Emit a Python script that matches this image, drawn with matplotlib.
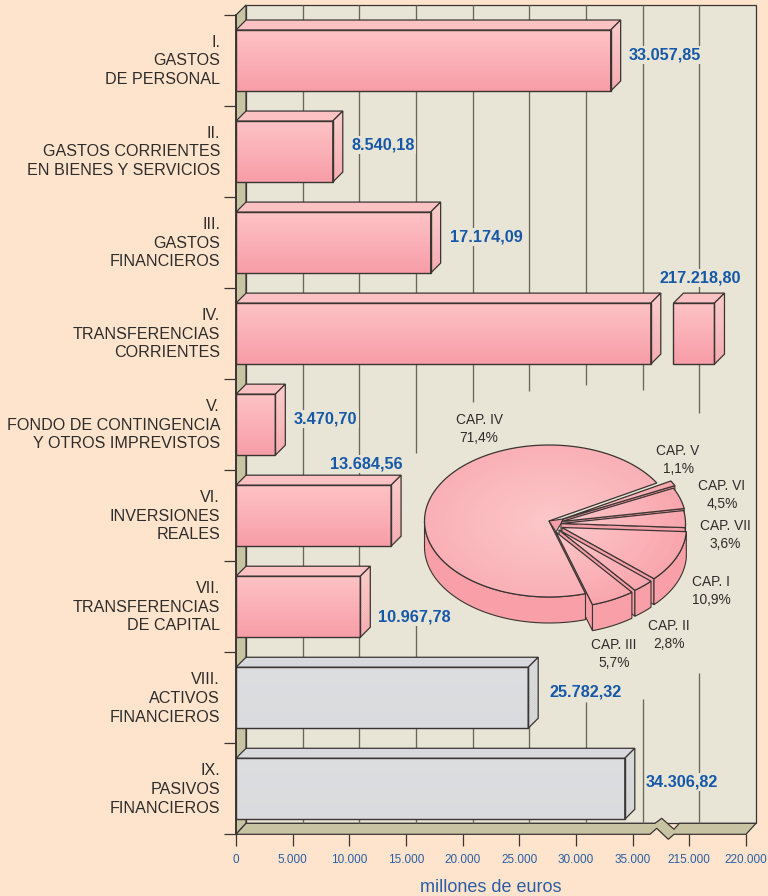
import numpy as np
import matplotlib
matplotlib.use("Agg")
import matplotlib.pyplot as plt
from matplotlib.colors import LinearSegmentedColormap, to_rgb
from matplotlib.patches import Polygon
from matplotlib.transforms import Affine2D, IdentityTransform, blended_transform_factory

# data
categories = [
    "I.\nGASTOS\nDE PERSONAL",
    "II.\nGASTOS CORRIENTES\nEN BIENES Y SERVICIOS",
    "III.\nGASTOS\nFINANCIEROS",
    "IV.\nTRANSFERENCIAS\nCORRIENTES",
    "V.\nFONDO DE CONTINGENCIA\nY OTROS IMPREVISTOS",
    "VI.\nINVERSIONES\nREALES",
    "VII.\nTRANSFERENCIAS\nDE CAPITAL",
    "VIII.\nACTIVOS\nFINANCIEROS",
    "IX.\nPASIVOS\nFINANCIEROS",
]
values = [33057.85, 8540.18, 17174.09, 217218.80, 3470.70, 13684.56, 10967.78, 25782.32, 34306.82]
grey_bars = [7, 8]
x_ticks = [0, 5000, 10000, 15000, 20000, 25000, 30000, 35000, 215000, 220000]
x_ticklabels = ["0", "5.000", "10.000", "15.000", "20.000", "25.000", "30.000", "35.000", "215.000", "220.000"]

# pie slices in drawing order, going round from the IV slice
pie_names = ["CAP. IV", "CAP. III", "CAP. II", "CAP. I", "CAP. VII", "CAP. VI", "CAP. V"]
pie_shares = [71.4, 5.7, 2.8, 10.9, 3.6, 4.5, 1.1]

# layout, in pixels of the 768x896 picture
value_label_xy = [(629, 55), (351, 145), (450, 237), (659, 278), (294, 419), (330, 464), (378, 617), (550, 692), (646, 782)]
pie_label_xy = [(479, 429), (614, 654), (669, 635), (711, 591), (725, 535), (722, 495), (678, 460)]
pie_centres = [(549, 521), (556, 532), (559, 530), (562, 527.5), (561, 523.5), (561.5, 521.5), (563, 519)]
pie_rx, pie_ry, pie_depth = 124.5, 76, 26
pie_start = 30.0
grid_gaps = {15000: (453, 625), 20000: (402, 657), 25000: (391, 657), 30000: (385, 702),
             35000: (390, 699), 215000: (413, 673)}

PEACH = "#FEE4CC"
WALL = "#E8E5D6"
KHAKI = "#C8C4A3"
DARK = "#3A3432"
BLUE = "#1558A8"
TICK_BLUE = "#2B5EA4"
TEXT = "#2E2C2B"
DEPTH = 10
BREAK_LOW, BREAK_HIGH = 37500, 212500
SEG_END, SEG_START = 36600, 213600

plt.rcParams["font.family"] = ["Liberation Sans", "DejaVu Sans"]


def forward(x):
    x = np.asarray(x, dtype=float)
    return np.where(x <= BREAK_LOW, x, np.where(x >= BREAK_HIGH, x - (BREAK_HIGH - BREAK_LOW), BREAK_LOW))


def inverse(x):
    x = np.asarray(x, dtype=float)
    return np.where(x <= BREAK_LOW, x, x + (BREAK_HIGH - BREAK_LOW))


def euro_label(v):
    return f"{v:,.2f}".replace(",", "#").replace(".", ",").replace("#", ".")


def draw_bar(ax, y, left, right, height, colors):
    front_top, front_bottom, top_col, side_top, side_bottom = colors
    cmap = LinearSegmentedColormap.from_list("bar", [front_top, front_bottom])
    edges = np.linspace(y - height / 2, y + height / 2, 41)
    shade = np.linspace(0, 1, 40).reshape(-1, 1)
    ax.pcolormesh([left, right], edges, shade, cmap=cmap, shading="flat", zorder=3)
    ax.barh(y, right - left, left=left, height=height, facecolor="none", edgecolor=DARK, linewidth=1.0, zorder=5)

    (x0, y0), (x1, y1) = ax.transData.transform([(left, y - height / 2), (right, y + height / 2)])
    top = [(x0, y0), (x1, y0), (x1 + DEPTH, y0 + DEPTH), (x0 + DEPTH, y0 + DEPTH)]
    ax.add_patch(Polygon(top, closed=True, facecolor=top_col, edgecolor=DARK, linewidth=0.9,
                         transform=IdentityTransform(), clip_on=False, zorder=4))
    # side face, light at the top and darker at the bottom
    steps = np.linspace(0, 1, 31)
    c0, c1 = np.array(to_rgb(side_top)), np.array(to_rgb(side_bottom))
    for a, b in zip(steps[:-1], steps[1:]):
        ya, yb = y0 + (y1 - y0) * a, y0 + (y1 - y0) * b
        strip = [(x1, ya), (x1, yb), (x1 + DEPTH, yb + DEPTH), (x1 + DEPTH, ya + DEPTH)]
        ax.add_patch(Polygon(strip, closed=True, facecolor=c0 + (c1 - c0) * a, edgecolor="none",
                             transform=IdentityTransform(), clip_on=False, zorder=4))
    side = [(x1, y0), (x1, y1), (x1 + DEPTH, y1 + DEPTH), (x1 + DEPTH, y0 + DEPTH)]
    ax.add_patch(Polygon(side, closed=True, facecolor="none", edgecolor=DARK, linewidth=0.9,
                         transform=IdentityTransform(), clip_on=False, zorder=4))


def arc(centre, t0, t1, scale=1.0, drop=0):
    t = np.radians(np.linspace(t0, t1, 90))
    return np.column_stack([centre[0] + pie_rx * scale * np.cos(t), centre[1] - pie_ry * scale * np.sin(t) + drop])


def draw_cut(ax, centre, t):
    p = arc(centre, t, t)[0]
    quad = [centre, p, (p[0], p[1] + pie_depth), (centre[0], centre[1] + pie_depth)]
    ax.add_patch(Polygon(quad, closed=True, facecolor="#F79FA9", edgecolor=DARK, linewidth=0.8))


def draw_slice(ax, centre, t0, t1, rim_color):
    # outer wall, only where it faces the viewer
    a, b = max(t0, 180), min(t1, 360)
    if b > a:
        wall = np.vstack([arc(centre, a, b), arc(centre, b, a, drop=pie_depth)])
        ax.add_patch(Polygon(wall, closed=True, facecolor="#F89FA8", edgecolor=DARK, linewidth=0.8))
    # top face, layered from the rim to the lighter centre
    rim, mid = np.array(to_rgb(rim_color)), np.array(to_rgb("#FCC8C9"))
    for s in np.linspace(1, 0.04, 25):
        poly = np.vstack([[centre], arc(centre, t0, t1, scale=s)])
        ax.add_patch(Polygon(poly, closed=True, facecolor=mid + (rim - mid) * s, edgecolor="none"))
    outline = np.vstack([[centre], arc(centre, t0, t1)])
    ax.add_patch(Polygon(outline, closed=True, facecolor="none", edgecolor=DARK, linewidth=0.9))


fig = plt.figure(figsize=(7.68, 8.96), dpi=100, facecolor=PEACH)

# back wall and floor
bg = fig.add_axes([0, 0, 1, 1], zorder=0)
bg.set_xlim(0, 768)
bg.set_ylim(896, 0)
bg.axis("off")
bg.add_patch(Polygon([(246, 5), (756, 5), (756, 823.3), (246, 823.3)], closed=True,
                     facecolor=WALL, edgecolor=DARK, linewidth=0.9))
bg.add_patch(Polygon([(236, 15), (246, 5), (246, 823.3), (236, 834.3)], closed=True,
                     facecolor=KHAKI, edgecolor=DARK, linewidth=0.9))
floor = [(246, 823.3), (655, 823.3), (661.7, 818.3), (674, 829.3), (679.3, 823.3), (756, 823.3),
         (746, 834.3), (674, 834.3), (668.3, 839.3), (656.7, 828.3), (650, 834.3), (236, 834.3)]
bg.add_patch(Polygon(floor, closed=True, facecolor=KHAKI, edgecolor=DARK, linewidth=0.9, clip_on=False))

# bars
ax = fig.add_axes([236 / 768, (896 - 834.3) / 896, 510 / 768, 819.3 / 896], zorder=1)
ax.patch.set_visible(False)
ax.set_xscale("function", functions=(forward, inverse))
ax.set_xlim(0, 220000)
ax.set_ylim(8.5, -0.5)
ax.set_xticks(x_ticks)
ax.set_xticklabels(x_ticklabels, fontsize=8.5, color=TICK_BLUE)
ax.tick_params(axis="x", length=8.6, width=0.9, color=DARK, pad=5.5)
ax.set_yticks(range(len(categories)))
ax.set_yticklabels(categories, fontsize=11.6, color=TEXT, linespacing=1.32, ha="right")
ax.tick_params(axis="y", length=0, pad=11.5)
ax.set_yticks(np.arange(-0.5, 9), minor=True)
ax.tick_params(axis="y", which="minor", length=8.6, width=0.9, color=DARK)
# the three text lines sit a little above the bar centre
for label in ax.get_yticklabels():
    label.set_transform(label.get_transform() + Affine2D().translate(0, 3))
for name in ("top", "right", "bottom"):
    ax.spines[name].set_visible(False)
ax.spines["left"].set_color(DARK)
ax.spines["left"].set_linewidth(1.3)
ax.set_xlabel("millones de euros", fontsize=13, color=TICK_BLUE)
ax.xaxis.set_label_coords((491 - 236) / 510, -(887 - 834.3) / 819.3)
ax.xaxis.label.set_va("center")

# grid lines stand on the back wall, in picture pixels along y
grid_trans = blended_transform_factory(ax.transData + Affine2D().translate(DEPTH, 0), bg.transData)
for tick in x_ticks[1:-1]:
    if tick in grid_gaps:
        gap_top, gap_bottom = grid_gaps[tick]
        ax.vlines([tick, tick], [5, gap_bottom], [gap_top, 823], color="#69665B", linewidth=0.95,
                  transform=grid_trans, zorder=1, clip_on=False)
    else:
        ax.vlines(tick, 5, 823, color="#69665B", linewidth=0.95, transform=grid_trans, zorder=1, clip_on=False)

pink = ("#FDC2C4", "#F79DA8", "#FCC2C3", "#FCC8C8", "#F8A8AF")
grey = ("#DCDDDF", "#DADBDE", "#D8D9DC", "#D6D8DB", "#D2D5D8")
for i, value in enumerate(values):
    colors = grey if i in grey_bars else pink
    if value > BREAK_HIGH:
        draw_bar(ax, i, 0, SEG_END, 0.67, colors)
        draw_bar(ax, i, SEG_START, value, 0.67, colors)
    else:
        draw_bar(ax, i, 0, value, 0.67, colors)

# pie and the labels that cover the grid lines
top = fig.add_axes([0, 0, 1, 1], zorder=2)
top.set_xlim(0, 768)
top.set_ylim(896, 0)
top.axis("off")

bounds = pie_start + np.concatenate([[0], np.cumsum(np.array(pie_shares) * 3.6)])
# cut faces go under the big slice, only their ends show in the gaps
for k in [6, 5, 4, 3, 2, 1]:
    draw_cut(top, pie_centres[k], bounds[k])
draw_slice(top, pie_centres[0], bounds[0], bounds[1], "#F9B0B6")
# the hollow where the pulled-out slices meet
top.add_patch(Polygon([pie_centres[0], pie_centres[1], pie_centres[4], pie_centres[6]], closed=True,
                      facecolor="#F79FA9", edgecolor=DARK, linewidth=0.8))
# back slices first so the front ones overlap them
for k in [6, 5, 4, 3, 2, 1]:
    draw_slice(top, pie_centres[k], bounds[k], bounds[k + 1], "#F9A6AE")

for name, share, (px, py) in zip(pie_names, pie_shares, pie_label_xy):
    label = name + "\n" + f"{share:.1f}".replace(".", ",") + "%"
    top.text(px, py, label, ha="center", va="center", fontsize=9.9, color=TEXT, linespacing=1.38)

for value, (px, py) in zip(values, value_label_xy):
    top.text(px, py, euro_label(value), ha="left", va="center", fontsize=11.7, fontweight="bold", color=BLUE,
             bbox=dict(facecolor=WALL, edgecolor="none", pad=1.0))

fig.savefig("out.png", dpi=100, facecolor=PEACH)
